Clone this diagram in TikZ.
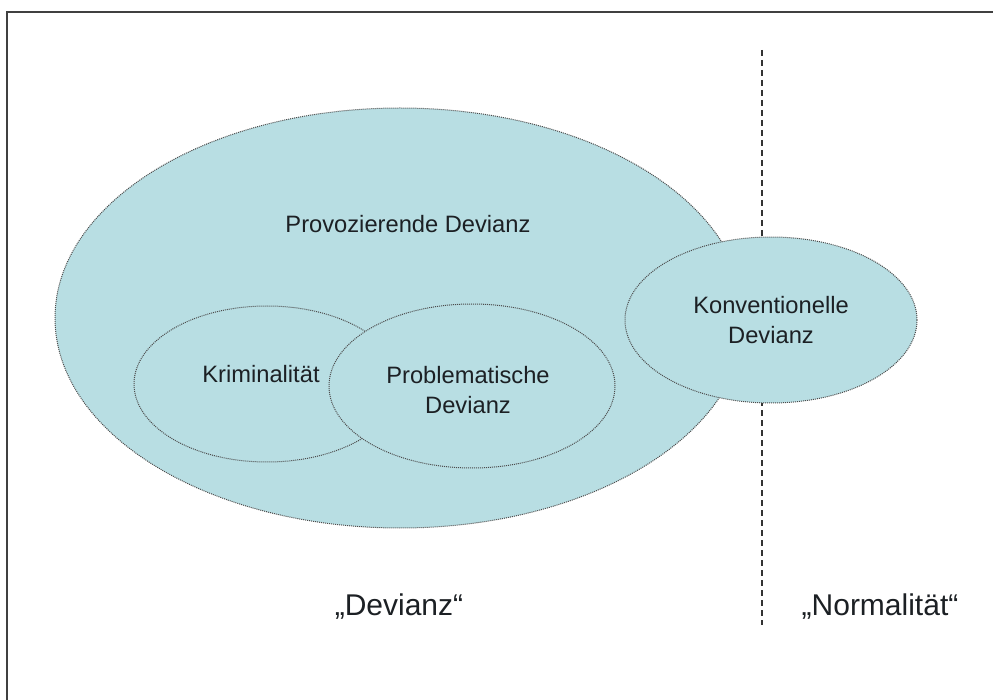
\documentclass[tikz,border=0pt]{standalone}
\usepackage{fontspec}
\setmainfont{Liberation Sans}
\usepackage{tikz}
\usetikzlibrary{shapes.geometric}
\usepackage{xcolor}
\definecolor{fillblue}{RGB}{184,222,227}
\definecolor{txt}{RGB}{28,32,36}

\begin{document}
\begin{tikzpicture}[x=1pt, y=-1pt,
		e/.style = {ellipse, draw=black!70, densely dotted, line width=1pt, fill=fillblue, inner sep=0pt},
		t/.style = {text=txt, font=\fontsize{23.7}{30}\selectfont, align=center, inner sep=0pt},
		l/.style = {text=txt, font=\fontsize{30}{36}\selectfont, inner sep=0pt},
		d/.style = {dash pattern=on 6pt off 4pt, line width=1.4pt, black!80}
		]
		\useasboundingbox (0,0) rectangle (993,700);
		
		%Frame
		\draw[line width=2pt, black!75] (7,700) -- (7,12) -- (993,12);
		
		%Divider
		\coordinate (top) at (762,50);
		\coordinate (bot) at (762,625);
		\draw[d] (top) -- (bot);
		
		%Ellipses
		\node[e, minimum width=690pt, minimum height=420pt] (prov) at (400,318) {};
		\node[e, minimum width=266pt, minimum height=156pt] (krim) at (267,384) {};
		\node[e, minimum width=286pt, minimum height=164pt] (prob) at (472,386) {};
		\node[e, minimum width=292pt, minimum height=166pt] (konv) at (771,320) {};
		
		%Labels
		\node[t, anchor=base] (provtxt) at (408,233) {Provozierende Devianz};
		\node[t, anchor=base] (krimtxt) at (261,383) {Kriminalität};
		\node[t] (probtxt) at (468,390) {Problematische\\Devianz};
		\node[t] (konvtxt) at (771,320) {Konventionelle\\Devianz};
		\node[l, anchor=base] (dev) at (399,615) {„Devianz“};
		\node[l, anchor=base] (norm) at (880,615) {„Normalität“};
	\end{tikzpicture}
\end{document}
